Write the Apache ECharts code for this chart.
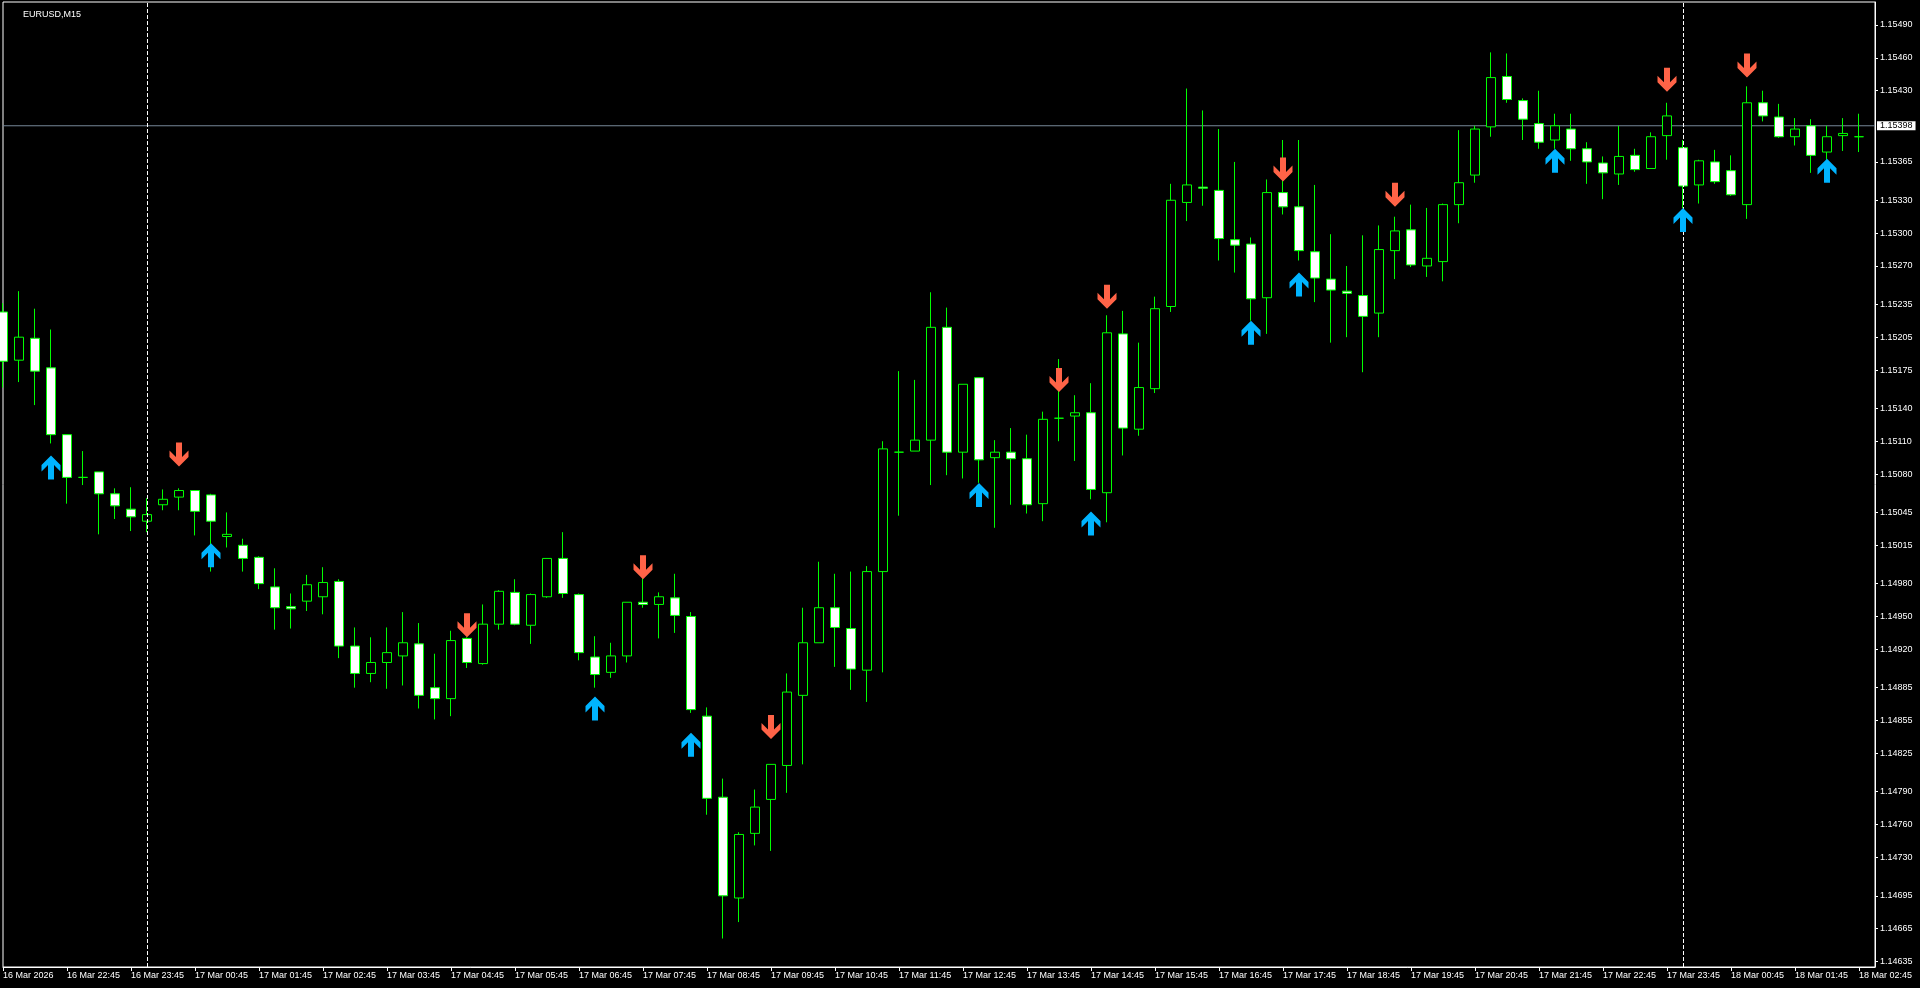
<!DOCTYPE html>
<html>
<head>
<meta charset="utf-8">
<script src="https://cdn.jsdelivr.net/npm/echarts@6/dist/echarts.min.js"></script>
<style>
html,body{margin:0;padding:0;background:#000;}
#chart{width:1920px;height:988px;}
</style>
</head>
<body>
<div id="chart"></div>
<script>
// ---- data ----
const symbolTitle = 'EURUSD,M15';
const opens = [1.15228,1.15184,1.15204,1.15177,1.15116,1.15077,1.15082,1.15062,1.15048,1.15037,
1.15052,1.15059,1.15065,1.15061,1.15023,1.15015,1.15004,1.14977,1.14959,1.14964,
1.14968,1.14982,1.14923,1.14898,1.14908,1.14914,1.14925,1.14885,1.14875,1.14930,
1.14907,1.14943,1.14972,1.14942,1.14968,1.15003,1.14970,1.14913,1.14899,1.14914,
1.14963,1.14961,1.14967,1.14950,1.14859,1.14785,1.14693,1.14752,1.14783,1.14814,
1.14878,1.14926,1.14958,1.14939,1.14901,1.14991,1.15100,1.15101,1.15111,1.15214,
1.15100,1.15168,1.15095,1.15100,1.15094,1.15053,1.15131,1.15133,1.15136,1.15063,
1.15208,1.15121,1.15158,1.15233,1.15328,1.15342,1.15339,1.15294,1.15290,1.15241,
1.15337,1.15324,1.15283,1.15258,1.15247,1.15243,1.15227,1.15284,1.15303,1.15270,
1.15274,1.15326,1.15353,1.15397,1.15443,1.15421,1.15400,1.15385,1.15395,1.15377,
1.15364,1.15354,1.15371,1.15359,1.15389,1.15378,1.15344,1.15365,1.15357,1.15326,
1.15419,1.15406,1.15388,1.15398,1.15374,1.15389,1.15388];
const highs = [1.15236,1.15247,1.15231,1.15212,1.15116,1.15101,1.15082,1.15067,1.15068,1.15058,
1.15066,1.15067,1.15065,1.15062,1.15045,1.15021,1.15005,1.14994,1.14971,1.14988,
1.14995,1.14984,1.14940,1.14931,1.14940,1.14954,1.14944,1.14916,1.14937,1.14931,
1.14961,1.14974,1.14984,1.14971,1.15003,1.15027,1.14971,1.14932,1.14926,1.14963,
1.14985,1.14972,1.14989,1.14954,1.14867,1.14802,1.14753,1.14792,1.14815,1.14898,
1.14958,1.15000,1.14989,1.14991,1.14996,1.15110,1.15174,1.15166,1.15246,1.15232,
1.15162,1.15168,1.15111,1.15122,1.15116,1.15137,1.15185,1.15152,1.15163,1.15225,
1.15229,1.15200,1.15242,1.15345,1.15432,1.15412,1.15395,1.15365,1.15296,1.15349,
1.15385,1.15385,1.15344,1.15299,1.15270,1.15298,1.15307,1.15315,1.15326,1.15323,
1.15327,1.15394,1.15398,1.15465,1.15464,1.15423,1.15430,1.15409,1.15409,1.15383,
1.15370,1.15398,1.15377,1.15392,1.15419,1.15385,1.15367,1.15376,1.15371,1.15434,
1.15430,1.15418,1.15405,1.15404,1.15398,1.15405,1.15409];
const lows = [1.15159,1.15164,1.15143,1.15108,1.15053,1.15070,1.15025,1.15039,1.15028,1.15027,
1.15047,1.15047,1.15024,1.14991,1.15013,1.14991,1.14975,1.14938,1.14939,1.14955,
1.14952,1.14912,1.14885,1.14890,1.14884,1.14887,1.14866,1.14856,1.14859,1.14903,
1.14906,1.14938,1.14942,1.14925,1.14967,1.14967,1.14910,1.14885,1.14894,1.14908,
1.14958,1.14930,1.14935,1.14862,1.14769,1.14656,1.14671,1.14741,1.14736,1.14789,
1.14815,1.14926,1.14904,1.14883,1.14872,1.14899,1.15042,1.15101,1.15070,1.15079,
1.15076,1.15072,1.15031,1.15052,1.15044,1.15037,1.15110,1.15092,1.15057,1.15036,
1.15097,1.15115,1.15154,1.15228,1.15311,1.15325,1.15275,1.15264,1.15220,1.15208,
1.15317,1.15275,1.15237,1.15200,1.15205,1.15173,1.15205,1.15258,1.15269,1.15260,
1.15256,1.15309,1.15346,1.15388,1.15419,1.15385,1.15377,1.15377,1.15366,1.15345,
1.15331,1.15344,1.15356,1.15359,1.15367,1.15323,1.15327,1.15345,1.15334,1.15313,
1.15402,1.15387,1.15380,1.15355,1.15367,1.15375,1.15374];
const closes = [1.15183,1.15205,1.15174,1.15116,1.15077,1.15077,1.15062,1.15051,1.15041,1.15043,
1.15057,1.15065,1.15046,1.15037,1.15025,1.15003,1.14980,1.14958,1.14957,1.14979,
1.14981,1.14923,1.14898,1.14908,1.14917,1.14926,1.14878,1.14875,1.14928,1.14908,
1.14943,1.14973,1.14943,1.14970,1.15003,1.14971,1.14917,1.14897,1.14914,1.14963,
1.14961,1.14968,1.14951,1.14865,1.14784,1.14695,1.14751,1.14776,1.14815,1.14881,
1.14926,1.14958,1.14940,1.14902,1.14991,1.15103,1.15100,1.15111,1.15214,1.15100,
1.15162,1.15093,1.15100,1.15094,1.15052,1.15130,1.15131,1.15136,1.15066,1.15209,
1.15122,1.15159,1.15231,1.15330,1.15344,1.15341,1.15295,1.15289,1.15240,1.15337,
1.15324,1.15284,1.15259,1.15248,1.15245,1.15224,1.15285,1.15302,1.15271,1.15277,
1.15326,1.15346,1.15395,1.15442,1.15422,1.15404,1.15383,1.15398,1.15377,1.15365,
1.15355,1.15370,1.15358,1.15388,1.15407,1.15343,1.15366,1.15347,1.15335,1.15419,
1.15407,1.15388,1.15395,1.15371,1.15388,1.15391,1.15388];

// signal arrows (bar index, price of arrow centre)
const buyArrowBars   = [3,13,37,43,61,68,78,81,97,105,114];
const buyArrowPrices = [1.15086,1.15006,1.14866,1.14833,1.15061,1.15035,1.15209,1.15253,1.15366,1.15312,1.15357];
const sellArrowBars   = [11,29,40,48,66,69,80,87,104,109];
const sellArrowPrices = [1.15098,1.14942,1.14995,1.14849,1.15166,1.15242,1.15358,1.15335,1.15440,1.15453];

const bidPrice = 1.15398;
const daySeparators = [9, 105];

const yTickValues = [1.15490,1.15460,1.15430,1.15365,1.15330,1.15300,1.15270,1.15235,1.15205,1.15175,
1.15140,1.15110,1.15080,1.15045,1.15015,1.14980,1.14950,1.14920,1.14885,1.14855,
1.14825,1.14790,1.14760,1.14730,1.14695,1.14665,1.14635];

const xTickLabels = ['16 Mar 2026','16 Mar 22:45','16 Mar 23:45',
'17 Mar 00:45','17 Mar 01:45','17 Mar 02:45','17 Mar 03:45','17 Mar 04:45','17 Mar 05:45',
'17 Mar 06:45','17 Mar 07:45','17 Mar 08:45','17 Mar 09:45','17 Mar 10:45','17 Mar 11:45',
'17 Mar 12:45','17 Mar 13:45','17 Mar 14:45','17 Mar 15:45','17 Mar 16:45','17 Mar 17:45',
'17 Mar 18:45','17 Mar 19:45','17 Mar 20:45','17 Mar 21:45','17 Mar 22:45','17 Mar 23:45',
'18 Mar 00:45','18 Mar 01:45','18 Mar 02:45'];

// categories: M15 bar times starting 16 Mar 21:45 (+1 empty slot at the right)
const categories = [];
for (let i = 0; i < opens.length + 1; i++) {
  const t = 21 * 60 + 45 + 15 * i;
  const day = 16 + Math.floor(t / 1440);
  const m = t % 1440;
  const hh = String(Math.floor(m / 60)).padStart(2, '0');
  const mm = String(m % 60).padStart(2, '0');
  categories.push(day + ' Mar ' + hh + ':' + mm);
}

// ---- build ----
const candleData = opens.map((o, i) => [o, closes[i], lows[i], highs[i]]);
const buyData = buyArrowBars.map((b, i) => [b, buyArrowPrices[i]]);
const sellData = sellArrowBars.map((b, i) => [b, sellArrowPrices[i]]);
const bidLineData = [[0, bidPrice], [categories.length - 1, bidPrice]];

const FONT = 'Liberation Sans';
const upArrow = 'path://M9.5,0 L19,9.5 L19,16 L12.5,9.5 L12.5,24 L6.5,24 L6.5,9.5 L0,16 L0,9.5 Z';
const downArrow = 'path://M9.5,24 L19,14.5 L19,8 L12.5,14.5 L12.5,0 L6.5,0 L6.5,14.5 L0,8 L0,14.5 Z';
const showTick = (idx) => idx % 4 === 0 && idx < opens.length;

const chart = echarts.init(document.getElementById('chart'), null, {renderer: 'canvas'});
chart.setOption({
  backgroundColor: '#000',
  animation: false,
  title: {
    text: symbolTitle, left: 18, top: 5,
    textStyle: {color: '#fff', fontSize: 9, fontWeight: 'normal', fontFamily: FONT}
  },
  grid: {
    left: 3, right: 45, top: 2, bottom: 21,
    show: true, borderColor: '#fff', borderWidth: 1, backgroundColor: '#000'
  },
  xAxis: {
    type: 'category',
    data: categories,
    boundaryGap: false,
    axisLine: {show: true, lineStyle: {color: '#fff', width: 1}},
    axisTick: {show: true, interval: showTick, length: 4, lineStyle: {color: '#fff'}},
    axisLabel: {
      show: true, interval: showTick, color: '#fff', fontSize: 9, fontFamily: FONT,
      align: 'left', margin: 4,
      formatter: (v, idx) => xTickLabels[idx / 4]
    },
    splitLine: {show: false}
  },
  yAxis: {
    type: 'value',
    position: 'right',
    min: 1.14630, max: 1.15511,
    axisLine: {show: true, lineStyle: {color: '#fff', width: 1}},
    axisTick: {show: true, length: 3, customValues: yTickValues, lineStyle: {color: '#fff'}},
    axisLabel: {
      show: true, customValues: yTickValues, color: '#fff', fontSize: 9, fontFamily: FONT,
      margin: 5, formatter: (v) => Number(v).toFixed(5)
    },
    splitLine: {show: false}
  },
  series: [
    {
      type: 'line',
      data: bidLineData,
      symbol: 'none',
      silent: true,
      clip: false,
      z: 1,
      lineStyle: {color: '#778899', width: 1, type: 'solid'},
      endLabel: {
        show: true, distance: 2,
        formatter: () => bidPrice.toFixed(5),
        color: '#000', backgroundColor: '#fff', fontSize: 9, fontFamily: FONT,
        padding: [0, 3, 0, 3], lineHeight: 9
      },
      markLine: {
        silent: true,
        symbol: 'none',
        animation: false,
        label: {show: false},
        data: daySeparators.map(d => ({
          xAxis: d,
          lineStyle: {color: '#fff', width: 1, type: [4, 2]}
        }))
      }
    },
    {
      type: 'candlestick',
      data: candleData,
      barWidth: 10,
      clip: true,
      z: 3,
      itemStyle: {
        color: '#000000', color0: '#ffffff',
        borderColor: '#00ff00', borderColor0: '#00ff00', borderWidth: 1
      }
    },
    {
      type: 'scatter',
      data: buyData,
      symbol: upArrow,
      symbolSize: [19, 24],
      z: 5,
      itemStyle: {color: '#00b4ff', opacity: 1}
    },
    {
      type: 'scatter',
      data: sellData,
      symbol: downArrow,
      symbolSize: [19, 24],
      z: 5,
      itemStyle: {color: '#ff6347', opacity: 1}
    }
  ]
});
</script>
</body>
</html>
